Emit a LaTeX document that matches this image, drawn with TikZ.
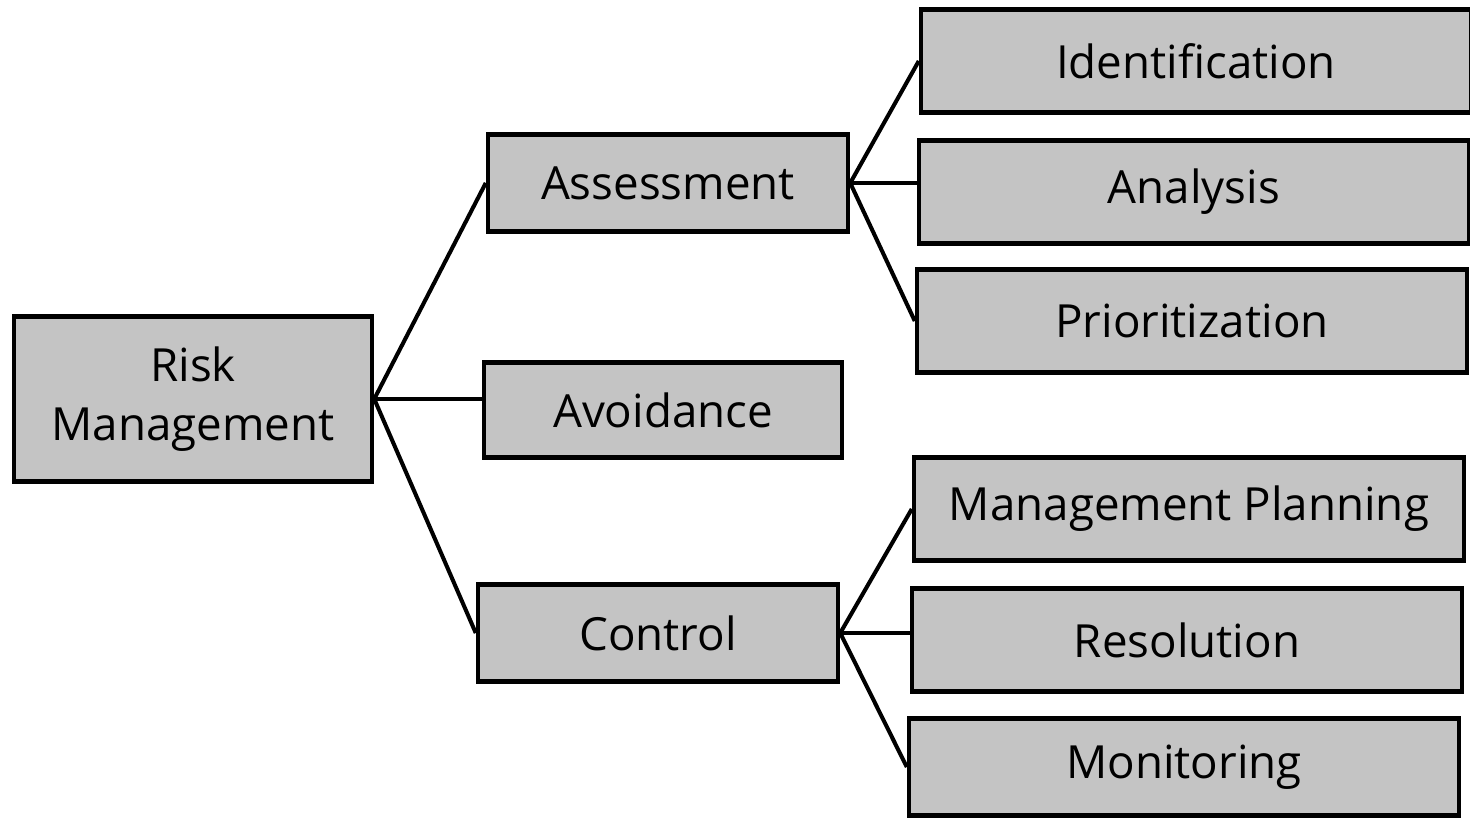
\documentclass[tikz,border=0pt]{standalone}
\usepackage{fontspec}
\setmainfont{Open Sans}
\usetikzlibrary{positioning}
\definecolor{boxgray}{HTML}{C4C4C4}
\tikzset{
  box/.style={draw, line width=2.6pt, fill=boxgray, minimum height=1.95cm, inner sep=0pt, align=center, font=\fontsize{26}{34}\selectfont},
  leaf/.style={box, minimum width=11cm, minimum height=2.05cm},
  link/.style={line width=2.3pt},
}

\begin{document}
\begin{tikzpicture}[x=0.02cm,y=-0.02cm]
  \useasboundingbox (0,0) rectangle (1470,824);
  % Root
  \node[box, minimum width=7.16cm, minimum height=3.3cm] (risk) at (193,399) {Risk\\Management};
  % Second level
  \node[box, minimum width=7.2cm] (assess) at (668,183) {Assessment};
  \node[box, minimum width=7.16cm, minimum height=1.9cm] (avoid) at (663,410) {Avoidance};
  \node[box, minimum width=7.2cm] (control) at (658,633) {Control};
  % Third level
  \node[leaf] (ident) at (1196,61) {Identification};
  \node[leaf] (analysis) at (1194,192) {Analysis};
  \node[leaf] (prior) at (1192,321) {Prioritization};
  \node[leaf] (plan) at (1189,509) {Management Planning};
  \node[leaf] (resol) at (1187,640) {Resolution};
  \node[leaf, minimum height=1.95cm] (monitor) at (1184,767) {Monitoring};
  % Connectors
  \draw[link] (risk.east) -- (assess.west);
  \draw[link] (risk.east) -- (risk.east -| avoid.west);
  \draw[link] (risk.east) -- (control.west);
  \draw[link] (assess.east) -- (ident.west);
  \draw[link] (assess.east) -- (assess.east -| analysis.west);
  \draw[link] (assess.east) -- (prior.west);
  \draw[link] (control.east) -- (plan.west);
  \draw[link] (control.east) -- (control.east -| resol.west);
  \draw[link] (control.east) -- (monitor.west);
\end{tikzpicture}
\end{document}
